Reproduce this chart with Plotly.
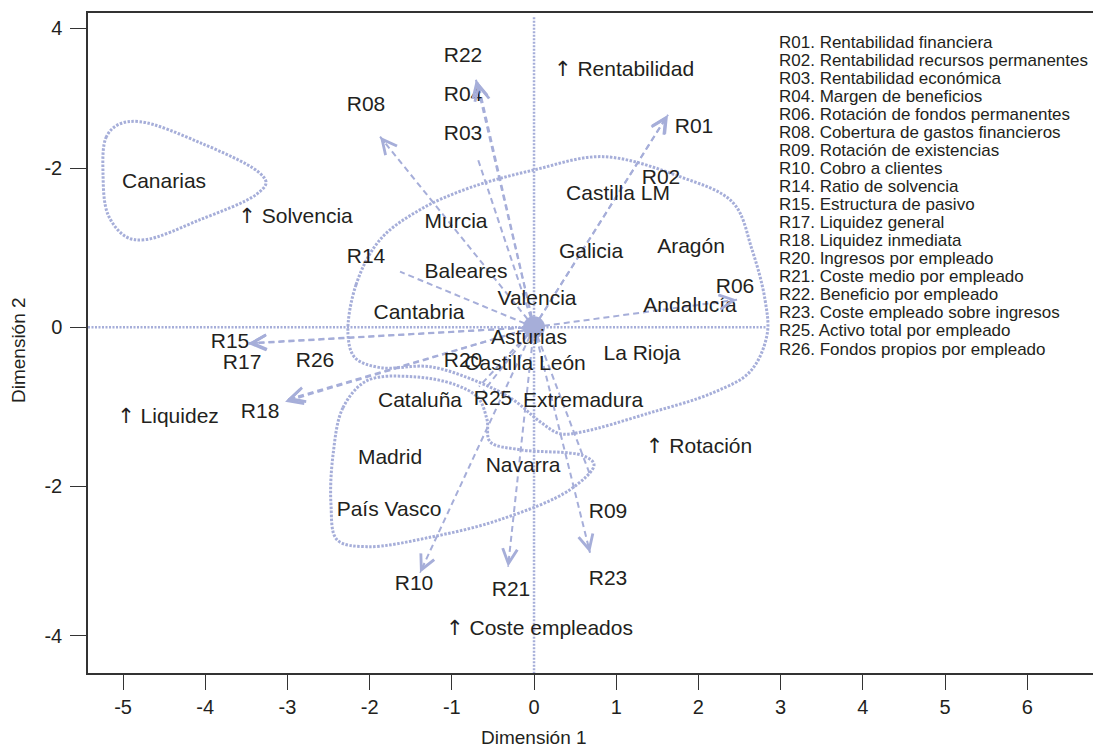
import plotly.graph_objects as go

# ---------------- data ----------------
arrow_names = ["R01", "R02", "R03", "R04", "R06", "R08", "R09", "R10", "R14",
               "R15", "R17", "R18", "R20", "R21", "R22", "R23", "R25", "R26"]
arrow_x = [1.630, 1.620, -0.693, -0.681, 2.470, -1.873, 0.681, -1.387, -1.630,
           -3.479, -3.470, -3.029, -0.669, -0.316, -0.706, 0.681, -0.620, -3.005]
arrow_y = [2.673, 2.660, 2.145, 3.075, 0.346, 2.396, -1.855, -3.088, 0.698,
           -0.208, -0.200, -0.937, -0.748, -3.013, 3.113, -2.836, -0.811, -0.912]
arrow_label_x = [1.946, 1.545, -0.864, -0.864, 2.445, -2.044, 0.900, -1.460, -2.044,
                 -3.698, -3.552, -3.333, -0.864, -0.280, -0.864, 0.900, -0.499, -2.664]
arrow_label_y = [2.509, 1.868, 2.421, 2.912, 0.497, 2.786, -2.333, -3.239, 0.874,
                 -0.195, -0.459, -1.075, -0.434, -3.314, 3.403, -3.176, -0.912, -0.434]

region_names = ["Canarias", "Murcia", "Castilla LM", "Galicia", "Aragón", "Baleares",
                "Valencia", "Andalucía", "Cantabria", "Asturias", "Castilla León",
                "La Rioja", "Cataluña", "Extremadura", "Madrid", "Navarra", "País Vasco"]
region_x = [-4.501, -0.949, 1.022, 0.693, 1.910, -0.827, 0.036, 1.898, -1.399, -0.061,
            -0.109, 1.314, -1.387, 0.596, -1.752, -0.134, -1.764]
region_y = [1.818, 1.314, 1.667, 0.937, 1.000, 0.686, 0.346, 0.258, 0.170, -0.145,
            -0.472, -0.346, -0.937, -0.937, -1.654, -1.755, -2.308]

note_texts = ["Rentabilidad", "Solvencia", "Liquidez", "Rotación", "Coste empleados"]
note_x = [1.095, -2.901, -4.453, 2.007, 0.067]
note_y = [3.226, 1.377, -1.138, -1.516, -3.805]

legend_lines = [
    "R01. Rentabilidad financiera",
    "R02. Rentabilidad recursos permanentes",
    "R03. Rentabilidad económica",
    "R04. Margen de beneficios",
    "R06. Rotación de fondos permanentes",
    "R08. Cobertura de gastos financieros",
    "R09. Rotación de existencias",
    "R10. Cobro a clientes",
    "R14. Ratio de solvencia",
    "R15. Estructura de pasivo",
    "R17. Liquidez general",
    "R18. Liquidez inmediata",
    "R20. Ingresos por empleado",
    "R21. Coste medio por empleado",
    "R22. Beneficio por empleado",
    "R23. Coste empleado sobre ingresos",
    "R25. Activo total por empleado",
    "R26. Fondos propios por empleado",
]

# cluster outlines (control points of smoothed closed curves)
canarias_x = [-5.243, -5.207, -5.061, -4.793, -4.063, -3.358, -3.260, -3.382, -4.063,
              -4.732, -4.964, -5.182]
canarias_y = [1.918, 2.384, 2.547, 2.585, 2.321, 1.956, 1.818, 1.667, 1.352,
              1.101, 1.138, 1.415]
big_x = [-2.263, -2.165, -1.873, -1.387, -0.779, 0.012, 0.839, 1.776, 2.421, 2.652,
         2.810, 2.835, 2.628, 2.178, 1.375, 0.596, 0.316, 0.073, -0.255, -0.657,
         -1.265, -1.873, -2.178]
big_y = [-0.094, 0.535, 1.101, 1.478, 1.755, 1.981, 2.145, 1.893, 1.566, 0.975,
         0.346, -0.094, -0.560, -0.824, -1.088, -1.314, -1.340, -1.189, -0.912, -0.698,
         -0.497, -0.509, -0.384]
low_x = [-2.445, -2.324, -2.032, -1.472, -0.961, -0.681, -0.572, -0.535, -0.170, 0.596,
         0.730, 0.438, -0.414, -1.229, -2.032, -2.397, -2.470]
low_y = [-1.604, -1.013, -0.673, -0.623, -0.723, -0.887, -1.164, -1.440, -1.541, -1.616,
         -1.730, -2.044, -2.421, -2.635, -2.761, -2.673, -2.233]

x_ticks = [-5, -4, -3, -2, -1, 0, 1, 2, 3, 4, 5, 6]
x_ticktext = ["-5", "-4", "-3", "-2", "-1", "0", "1", "2", "3", "4", "5", "6"]
y_tickvals = [3.76, 2.0, 0.0, -2.0, -3.88]
y_ticktext = ["4", "-2", "0", "-2", "-4"]

x_range = [-5.426, 6.80]
y_range = [-4.35, 3.952]
hline_x_end = 2.835
vline_y_top = 3.90

# ---------------- style ----------------
COL = "#a6aed9"
TXT = "#231f20"
FONT = "Liberation Sans, Arial, sans-serif"
ARROWFONT = "DejaVu Sans"
LBL = 21

# figure fills the whole window (page margin removed by post_script below)
W, H = 1093, 751
ML, MR, MT = 88, 0, 13
MB = H - 673
plot_h = H - MT - MB
plot_w = W - ML - MR


def px_to_paper_x(px):
    return (px - ML) / plot_w


def px_to_paper_y(py):
    return 1 - (py - MT) / plot_h


fig = go.Figure()

# reference lines
fig.add_trace(go.Scatter(x=[x_range[0], hline_x_end], y=[0, 0], mode="lines",
                         line=dict(color=COL, width=2.5, dash="2px,1.5px"),
                         hoverinfo="skip", showlegend=False))
fig.add_trace(go.Scatter(x=[0, 0], y=[vline_y_top, y_range[0]], mode="lines",
                         line=dict(color=COL, width=2.5, dash="2px,1.5px"),
                         hoverinfo="skip", showlegend=False))

# cluster outlines
for cx, cy in [(canarias_x, canarias_y), (big_x, big_y), (low_x, low_y)]:
    fig.add_trace(go.Scatter(x=cx + cx[:1], y=cy + cy[:1], mode="lines",
                             line=dict(color=COL, width=3, dash="2.5px,1.5px",
                                       shape="spline", smoothing=1.0),
                             hoverinfo="skip", showlegend=False))

# dashed arrow shafts
sx, sy = [], []
for ax_, ay_ in zip(arrow_x, arrow_y):
    sx += [0, ax_, None]
    sy += [0, ay_, None]
fig.add_trace(go.Scatter(x=sx, y=sy, mode="lines",
                         line=dict(color=COL, width=2, dash="6px,4px"),
                         hoverinfo="skip", showlegend=False))

# arrow heads
for ax_, ay_ in zip(arrow_x, arrow_y):
    fig.add_annotation(x=ax_, y=ay_, ax=ax_ * 0.96, ay=ay_ * 0.96,
                       xref="x", yref="y", axref="x", ayref="y",
                       text="", showarrow=True, arrowhead=5, arrowsize=2.4,
                       arrowwidth=1.2, arrowcolor=COL)

# origin marker
fig.add_trace(go.Scatter(x=[0], y=[0], mode="markers",
                         marker=dict(color=COL, size=22),
                         hoverinfo="skip", showlegend=False))

# labels
fig.add_trace(go.Scatter(x=region_x, y=region_y, text=region_names, mode="text",
                         textfont=dict(family=FONT, size=LBL, color=TXT),
                         hoverinfo="skip", showlegend=False))
fig.add_trace(go.Scatter(x=arrow_label_x, y=arrow_label_y, text=arrow_names, mode="text",
                         textfont=dict(family=FONT, size=LBL, color=TXT),
                         hoverinfo="skip", showlegend=False))
note_html = ['<span style="font-family:%s">\u2191</span> %s' % (ARROWFONT, t) for t in note_texts]
fig.add_trace(go.Scatter(x=note_x, y=note_y, text=note_html, mode="text",
                         textfont=dict(family=FONT, size=LBL, color=TXT),
                         hoverinfo="skip", showlegend=False))

# legend block (text lines)
leg_left_px, leg_top_px, leg_step_px = 777, 42, 18.06
for i, line in enumerate(legend_lines):
    py = leg_top_px + i * leg_step_px
    fig.add_annotation(x=px_to_paper_x(leg_left_px), y=px_to_paper_y(py),
                       xref="paper", yref="paper", xanchor="left", yanchor="middle",
                       text=line, showarrow=False,
                       font=dict(family=FONT, size=17, color=TXT))

# axis titles
fig.add_annotation(x=0, y=px_to_paper_y(738), xref="x", yref="paper",
                   text="Dimensión 1", showarrow=False, yanchor="middle",
                   font=dict(family=FONT, size=19, color=TXT))
fig.add_annotation(x=px_to_paper_x(18), y=px_to_paper_y(350), xref="paper", yref="paper",
                   text="Dimensión 2", showarrow=False, textangle=-90,
                   xanchor="center", yanchor="middle",
                   font=dict(family=FONT, size=19, color=TXT))

fig.update_layout(
    width=W, height=H,
    margin=dict(l=ML, r=MR, t=MT, b=MB),
    paper_bgcolor="white", plot_bgcolor="white",
    font=dict(family=FONT, color=TXT),
    showlegend=False,
    xaxis=dict(range=x_range, tickvals=x_ticks, ticktext=x_ticktext, showgrid=False,
               zeroline=False, showline=True, linecolor="#333333", linewidth=1.5, mirror=True,
               ticks="outside", ticklen=15, tickwidth=1.2, tickcolor="#333333",
               tickfont=dict(family=FONT, size=20, color=TXT), ticklabelstandoff=0),
    yaxis=dict(range=y_range, tickvals=y_tickvals, ticktext=y_ticktext, showgrid=False,
               zeroline=False, showline=True, linecolor="#333333", linewidth=1.5,
               ticks="outside", ticklen=16, tickwidth=1.2, tickcolor="#333333",
               tickfont=dict(family=FONT, size=20, color=TXT), ticklabelstandoff=4),
)

page_css = ("document.body.style.margin='0';"
            "document.body.style.overflow='hidden';"
            "document.documentElement.style.overflow='hidden';")
fig.write_html("out.html", post_script=page_css, config={"displayModeBar": False})
